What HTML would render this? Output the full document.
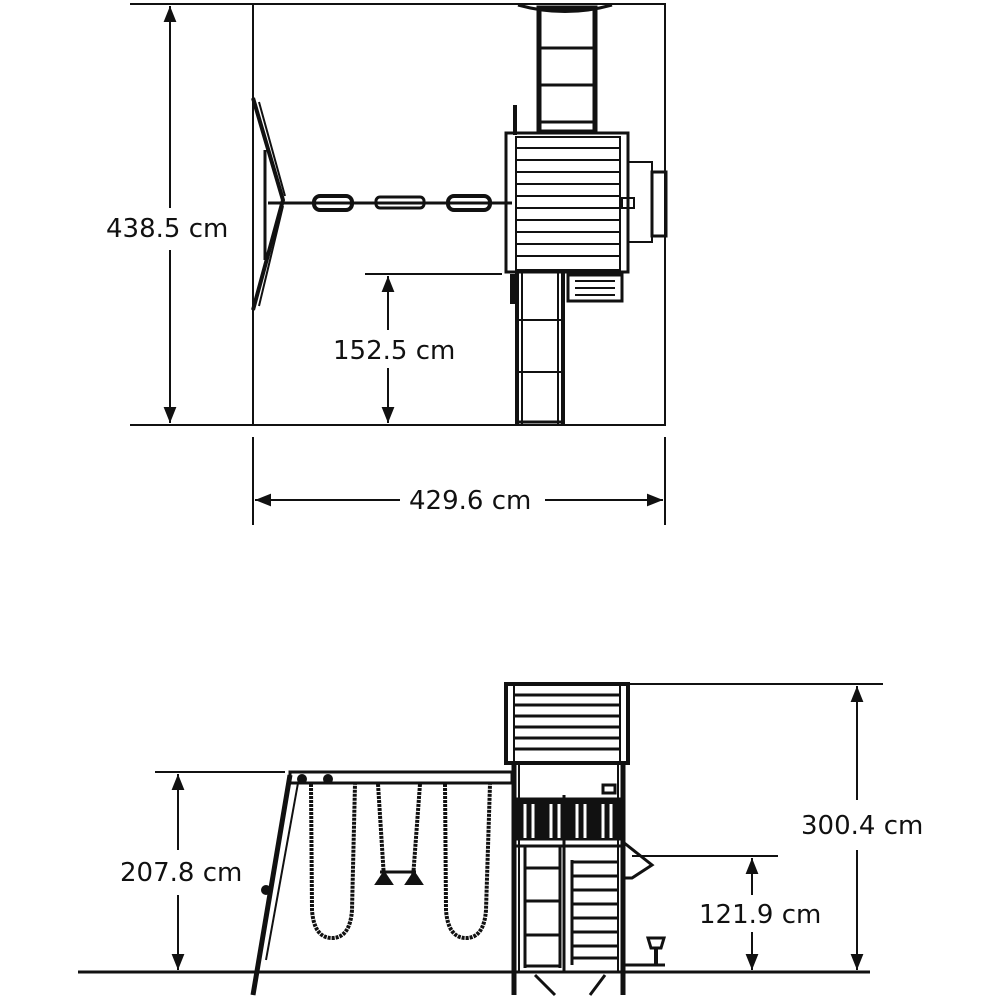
<!DOCTYPE html>
<html><head><meta charset="utf-8"><style>
html,body{margin:0;padding:0;background:#fff;}
svg{display:block;}
text{font-family:"DejaVu Sans","Liberation Sans",sans-serif;font-size:26px;fill:#111;}
</style></head><body>
<svg width="1000" height="1000" viewBox="0 0 1000 1000" xmlns="http://www.w3.org/2000/svg">
<defs>
<marker id="a" viewBox="0 0 10 10" refX="10" refY="5" markerWidth="8" markerHeight="8" orient="auto-start-reverse"><path d="M0,1 L10,5 L0,9 z" fill="#111"/></marker>
</defs>
<g stroke="#111" fill="none" stroke-width="2">
<!-- TOP PLAN -->
<rect x="253" y="4" width="412" height="421"/>
<line x1="130" y1="4" x2="253" y2="4"/>
<line x1="130" y1="425" x2="253" y2="425"/>
<line x1="170" y1="6" x2="170" y2="208" marker-start="url(#a)"/>
<line x1="170" y1="250" x2="170" y2="423" marker-end="url(#a)"/>
<line x1="253" y1="437" x2="253" y2="525"/>
<line x1="665" y1="437" x2="665" y2="525"/>
<line x1="255" y1="500" x2="400" y2="500" marker-start="url(#a)"/>
<line x1="545" y1="500" x2="663" y2="500" marker-end="url(#a)"/>
<line x1="365" y1="274" x2="502" y2="274"/>
<line x1="388" y1="276" x2="388" y2="330" marker-start="url(#a)"/>
<line x1="388" y1="368" x2="388" y2="423" marker-end="url(#a)"/>
<path d="M518,5 Q565,18 612,5" stroke-width="3"/>
<rect x="539" y="8" width="56" height="124" stroke-width="5"/>
<line x1="539" y1="48" x2="595" y2="48" stroke-width="3"/>
<line x1="539" y1="85" x2="595" y2="85" stroke-width="3"/>
<line x1="539" y1="122" x2="595" y2="122" stroke-width="3"/>
<line x1="515" y1="105" x2="515" y2="135" stroke-width="4"/>
<rect x="506" y="133" width="122" height="139" stroke-width="3"/>
<rect x="516" y="137" width="104" height="133" stroke-width="2"/>
<g stroke-width="2">
<line x1="516" y1="148" x2="620" y2="148"/><line x1="516" y1="160" x2="620" y2="160"/>
<line x1="516" y1="172" x2="620" y2="172"/><line x1="516" y1="184" x2="620" y2="184"/>
<line x1="516" y1="196" x2="620" y2="196"/><line x1="516" y1="208" x2="620" y2="208"/>
<line x1="516" y1="220" x2="620" y2="220"/><line x1="516" y1="232" x2="620" y2="232"/>
<line x1="516" y1="244" x2="620" y2="244"/><line x1="516" y1="256" x2="620" y2="256"/>
</g>
<rect x="628" y="162" width="24" height="80"/>
<rect x="652" y="172" width="14" height="64" stroke-width="3"/>
<rect x="622" y="198" width="12" height="10"/>
<line x1="517" y1="272" x2="517" y2="425" stroke-width="4"/>
<line x1="522" y1="272" x2="522" y2="425" stroke-width="2"/>
<line x1="558" y1="272" x2="558" y2="425" stroke-width="2"/>
<line x1="563" y1="272" x2="563" y2="425" stroke-width="4"/>
<line x1="517" y1="320" x2="563" y2="320"/><line x1="517" y1="372" x2="563" y2="372"/><line x1="517" y1="422" x2="563" y2="422" stroke-width="3"/>
<rect x="511" y="275" width="7" height="28" fill="#111"/>
<rect x="568" y="275" width="54" height="26" stroke-width="3"/>
<line x1="575" y1="281" x2="615" y2="281"/><line x1="575" y1="288" x2="615" y2="288"/><line x1="575" y1="295" x2="615" y2="295"/>
<path d="M253,98 L283,200 L253,310" stroke-width="4"/>
<path d="M259,102 L285,196 M259,306 L283,206" stroke-width="2"/>
<line x1="265" y1="150" x2="265" y2="260" stroke-width="3"/>
<line x1="268" y1="203" x2="512" y2="203" stroke-width="3"/>
<rect x="314" y="196" width="38" height="14" rx="6" stroke-width="4"/>
<rect x="376" y="197" width="48" height="11" rx="4" stroke-width="3"/>
<rect x="448" y="196" width="42" height="14" rx="6" stroke-width="4"/>

<!-- ELEVATION -->
<line x1="78" y1="972" x2="870" y2="972" stroke-width="3"/>
<line x1="630" y1="684" x2="883" y2="684"/>
<line x1="857" y1="686" x2="857" y2="800" marker-start="url(#a)"/>
<line x1="857" y1="850" x2="857" y2="970" marker-end="url(#a)"/>
<line x1="155" y1="772" x2="285" y2="772"/>
<line x1="178" y1="774" x2="178" y2="850" marker-start="url(#a)"/>
<line x1="178" y1="895" x2="178" y2="970" marker-end="url(#a)"/>
<line x1="632" y1="856" x2="778" y2="856"/>
<line x1="752" y1="858" x2="752" y2="895" marker-start="url(#a)"/>
<line x1="752" y1="932" x2="752" y2="970" marker-end="url(#a)"/>
<rect x="506" y="684" width="122" height="79" stroke-width="4"/>
<line x1="514" y1="686" x2="514" y2="761" stroke-width="2"/>
<line x1="620" y1="686" x2="620" y2="761" stroke-width="2"/>
<g stroke-width="3">
<line x1="514" y1="695" x2="620" y2="695"/><line x1="514" y1="705" x2="620" y2="705"/>
<line x1="514" y1="716" x2="620" y2="716"/><line x1="514" y1="727" x2="620" y2="727"/>
<line x1="514" y1="738" x2="620" y2="738"/><line x1="514" y1="749" x2="620" y2="749"/>
</g>
<rect x="290" y="772" width="222" height="11" stroke-width="3"/>
<circle cx="302" cy="779" r="4" fill="#111"/><circle cx="328" cy="779" r="4" fill="#111"/>
<path d="M290,775 L253,995" stroke-width="5"/>
<path d="M298,783 L266,960" stroke-width="2"/>
<circle cx="266" cy="890" r="4" fill="#111"/>
<path d="M311,784 L312,910 Q314,938 332,938 Q350,938 352,910 L355,784" stroke-width="4" stroke-dasharray="3,1"/>
<path d="M378,784 L384,878 M420,784 L413,878" stroke-width="4" stroke-dasharray="3,1"/>
<line x1="380" y1="872" x2="416" y2="872" stroke-width="3"/>
<path d="M376,884 L384,872 L392,884 z M406,884 L414,872 L422,884 z" fill="#111" stroke-width="2"/>
<path d="M445,784 L446,910 Q448,938 466,938 Q484,938 486,910 L490,784" stroke-width="4" stroke-dasharray="3,1"/>
<line x1="514" y1="763" x2="514" y2="995" stroke-width="5"/>
<line x1="623" y1="763" x2="623" y2="995" stroke-width="5"/>
<line x1="519" y1="763" x2="519" y2="972" stroke-width="2"/>
<line x1="618" y1="763" x2="618" y2="972" stroke-width="2"/>
<rect x="516" y="798" width="105" height="42" fill="#111" stroke-width="1"/>
<g stroke="#fff" stroke-width="3">
<line x1="525" y1="804" x2="525" y2="838"/><line x1="533" y1="804" x2="533" y2="838"/>
<line x1="551" y1="804" x2="551" y2="838"/><line x1="559" y1="804" x2="559" y2="838"/>
<line x1="577" y1="804" x2="577" y2="838"/><line x1="585" y1="804" x2="585" y2="838"/>
<line x1="603" y1="804" x2="603" y2="838"/><line x1="611" y1="804" x2="611" y2="838"/>
</g>
<line x1="514" y1="846" x2="623" y2="846" stroke-width="3"/>
<line x1="564" y1="795" x2="564" y2="972" stroke-width="3"/>
<line x1="525" y1="846" x2="525" y2="968" stroke-width="3"/>
<line x1="560" y1="846" x2="560" y2="968" stroke-width="3"/>
<line x1="525" y1="868" x2="560" y2="868" stroke-width="3"/>
<line x1="525" y1="901" x2="560" y2="901" stroke-width="3"/>
<line x1="525" y1="935" x2="560" y2="935" stroke-width="3"/>
<line x1="525" y1="966" x2="560" y2="966" stroke-width="3"/>
<g stroke-width="3">
<line x1="572" y1="862" x2="618" y2="862"/><line x1="572" y1="876" x2="618" y2="876"/>
<line x1="572" y1="890" x2="618" y2="890"/><line x1="572" y1="904" x2="618" y2="904"/>
<line x1="572" y1="918" x2="618" y2="918"/><line x1="572" y1="932" x2="618" y2="932"/>
<line x1="572" y1="946" x2="618" y2="946"/><line x1="572" y1="958" x2="618" y2="958"/>
<line x1="572" y1="860" x2="572" y2="965"/>
</g>
<path d="M623,842 L652,865 L632,878 L623,878" stroke-width="3"/>
<path d="M535,975 L555,995 M590,995 L605,975" stroke-width="3"/>
<line x1="625" y1="965" x2="665" y2="965" stroke-width="3"/>
<path d="M648,938 L664,938 L661,948 L651,948 z" stroke-width="3"/>
<line x1="656" y1="948" x2="656" y2="965" stroke-width="4"/>
<rect x="603" y="785" width="12" height="8" stroke-width="3"/>
</g>
<text x="106" y="237">438.5 cm</text>
<text x="409" y="509">429.6 cm</text>
<text x="333" y="359">152.5 cm</text>
<text x="801" y="834">300.4 cm</text>
<text x="120" y="881">207.8 cm</text>
<text x="699" y="923">121.9 cm</text>
</svg>
</body></html>
